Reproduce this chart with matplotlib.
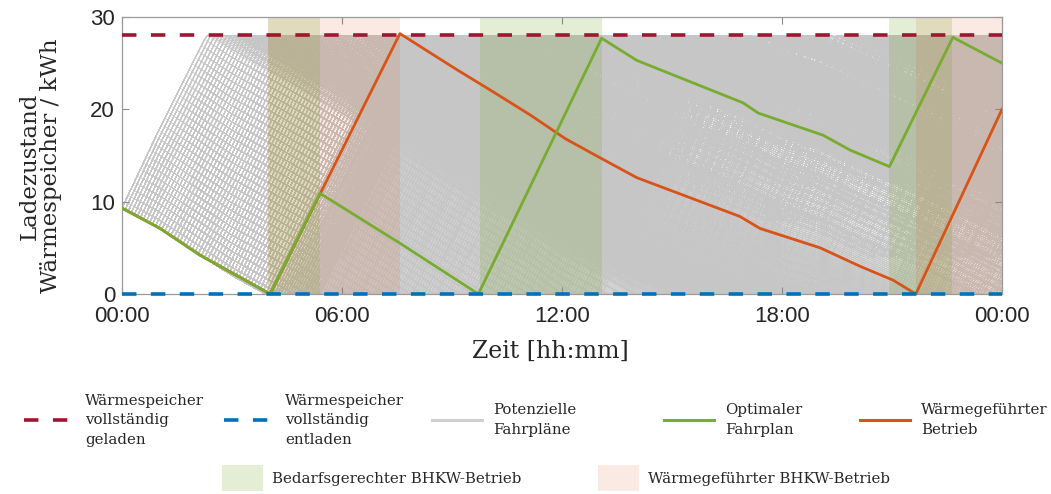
import numpy as np
import matplotlib
matplotlib.use("Agg")
import matplotlib.pyplot as plt
from matplotlib.collections import LineCollection
from matplotlib.lines import Line2D
from matplotlib.patches import Patch

# ---------------- data ----------------
capacity = 28.0            # kWh, storage full
soc_start = 9.3            # kWh at 00:00
chp_power = 10.5           # kWh/h gross heat output while running
# heat demand per hour 00..23 (kWh/h), read from discharge slopes
demand_per_hour = [2.1, 2.6, 2.6, 2.2, 2.3, 2.4, 2.5, 2.6, 2.6, 2.4, 2.3, 2.8,
                   2.1, 2.3, 1.6, 1.5, 1.6, 2.0, 1.3, 1.9, 1.8, 1.8, 2.0, 2.0]

# optimal schedule (green)
opt_t = [0.0, 1.04, 2.13, 4.04, 5.40, 7.58, 9.72, 13.08, 14.04, 16.94, 17.35,
         19.12, 19.85, 20.93, 22.66, 24.0]
opt_soc = [9.3, 7.1, 4.2, 0.0, 10.9, 5.5, 0.0, 27.7, 25.3, 20.7, 19.6,
           17.2, 15.6, 13.8, 27.8, 25.0]

# heat-led operation (orange)
heat_t = [0.0, 1.04, 2.13, 4.04, 7.58, 9.13, 10.04, 11.13, 12.10, 13.04, 14.04,
          16.85, 17.40, 19.04, 20.13, 21.03, 21.65, 24.0]
heat_soc = [9.3, 7.1, 4.2, 0.0, 28.2, 24.3, 22.1, 19.4, 16.8, 14.75, 12.6,
            8.4, 7.1, 5.0, 3.0, 1.5, 0.0, 20.0]

# CHP operating windows
demand_spans = [(3.97, 5.40), (9.75, 13.08), (20.92, 22.64)]
heatled_spans = [(3.97, 7.58), (21.65, 24.0)]

# potential schedules: first start / first run time grids (hours),
# restart thresholds (kWh) for the follow-up runs
first_start_fine = np.arange(0.0, 5.5, 1 / 12)
first_run_fine = np.arange(1 / 12, 4.0, 1 / 12)
first_start_coarse = np.arange(0.0, 5.5, 1 / 6)
first_run_coarse = np.arange(1 / 6, 4.0, 1 / 6)
restart_levels = [4.0, 8.0, 12.0, 16.0, 20.0]
restart_from = 5.4
empty_restart_windows = [(5.4, 13.1), (20.9, 24.0)]

xtick_pos = [0, 6, 12, 18, 24]
xtick_lab = ["00:00", "06:00", "12:00", "18:00", "00:00"]
ytick_pos = [0, 10, 20, 30]

# ---------------- potential schedules (storage simulation) ----------------
dt = 1 / 12
T = np.arange(0, 24 + dt / 2, dt)
dem = np.asarray(demand_per_hour)[np.minimum(T[:-1].astype(int), 23)]
eps = 1e-9


def simulate(starts, runs, theta, windows):
    S1, R1 = np.meshgrid(starts, runs)
    S1 = S1.ravel(); R1 = R1.ravel()
    n = S1.size
    soc = np.full(n, soc_start)
    charging = np.zeros(n, bool)
    first = np.full(n, T.size, int)
    traj = np.empty((n, T.size))
    traj[:, 0] = soc
    for k in range(T.size - 1):
        t = T[k]
        stage1 = (t >= S1 - eps) & (t < S1 + R1 - eps)
        after1 = t >= S1 + R1 - eps
        allowed = any(a - eps <= t < b for a, b in windows)
        start = after1 & allowed & (soc <= theta + eps) & ~charging
        first = np.where(start & (first == T.size), k, first)
        charging = charging | start
        charging = charging & ~(soc >= capacity - eps)
        on = stage1 | (after1 & charging)
        soc = np.clip(soc + dt * (on * chp_power - dem[k]), 0, capacity)
        traj[:, k + 1] = soc
    return traj, first


all_lines = []
trajA, _ = simulate(first_start_fine, first_run_fine, 0.0, empty_restart_windows)
all_lines.append(trajA)
for lvl in restart_levels:
    tr, first = simulate(first_start_coarse, first_run_coarse, lvl, [(restart_from, 24.0)])
    keep = first < T.size
    tr = tr[keep]; first = first[keep]
    mask = np.arange(T.size)[None, :] < first[:, None]
    tr = np.where(mask, np.nan, tr)
    all_lines.append(tr)
traj = np.vstack(all_lines)
segs = np.stack([np.broadcast_to(T, traj.shape), traj], axis=-1)

# ---------------- figure ----------------
W, H = 1051, 494
fig = plt.figure(figsize=(W / 100, H / 100), dpi=100)
ax = fig.add_axes([122 / W, 1 - 294 / H, 880 / W, 277 / H])

C_GREEN = "#77ac30"
C_ORANGE = "#d95319"
C_RED = "#a2142f"
C_BLUE = "#0072bd"
C_GRAY = "#c6c6c6"

lc = LineCollection(segs, colors=C_GRAY, linewidths=0.45, alpha=0.7, zorder=1)
ax.add_collection(lc)

for a, b in demand_spans:
    ax.axvspan(a, b, color=C_GREEN, alpha=0.2, lw=0, zorder=2)
for a, b in heatled_spans:
    ax.axvspan(a, b, color=C_ORANGE, alpha=0.12, lw=0, zorder=2)

ax.plot(heat_t, heat_soc, color=C_ORANGE, lw=2.0, zorder=3)
ax.plot(opt_t, opt_soc, color=C_GREEN, lw=2.0, zorder=4)
dash = (0, (4.0, 4.0))
ax.axhline(capacity, color=C_RED, lw=2.6, ls=dash, zorder=5)
ax.axhline(0, color=C_BLUE, lw=2.6, ls=dash, zorder=5, clip_on=False)

ax.set_xlim(0, 24)
ax.set_ylim(0, 30)
ax.set_xticks(xtick_pos)
ax.set_xticklabels(xtick_lab)
ax.set_yticks(ytick_pos)
ax.tick_params(direction="in", length=5, width=0.8, color="#8a8a8a",
               top=True, right=True, labelsize=16, labelcolor="#262626")
ax.tick_params(axis="x", pad=9)
ax.tick_params(axis="y", pad=5)
for lab in ax.get_xticklabels() + ax.get_yticklabels():
    lab.set_family("Liberation Sans")
for s in ax.spines.values():
    s.set_color("#9a9a9a")
    s.set_linewidth(0.9)

serif = "DejaVu Serif"
ax.set_xlabel("Zeit [hh:mm]", family=serif, fontsize=17, color="#262626")
ax.xaxis.set_label_coords((550 - 122) / 880, -(340 - 294) / 277)
ax.set_ylabel("Ladezustand\nWärmespeicher / kWh", family=serif, fontsize=16.5,
              color="#262626", linespacing=0.95)
ax.yaxis.set_label_coords((40 - 122) / 880, (294 - 166) / 277)
ax.yaxis.label.set_va("center")

# ---------------- legend ----------------
lfs = 10.8
row1_y = 1 - 420 / H
entries = [
    (Line2D([], [], color=C_RED, lw=2.6, ls=dash), "Wärmespeicher\nvollständig\ngeladen", 24),
    (Line2D([], [], color=C_BLUE, lw=2.6, ls=dash), "Wärmespeicher\nvollständig\nentladen", 224),
    (Line2D([], [], color="#cfcfcf", lw=2.2), "Potenzielle\nFahrpläne", 432),
    (Line2D([], [], color=C_GREEN, lw=2.2), "Optimaler\nFahrplan", 664),
    (Line2D([], [], color=C_ORANGE, lw=2.2), "Wärmegeführter\nBetrieb", 860),
]
for h, lab, x in entries:
    leg = fig.legend([h], [lab], loc="center left", bbox_to_anchor=(x / W, row1_y),
                     frameon=False, borderpad=0, borderaxespad=0, handlelength=3.3,
                     handletextpad=0.75, prop={"family": serif, "size": lfs})
    for t in leg.get_texts():
        t.set_linespacing(1.5)
        t.set_color("#262626")

row2_y = 1 - 478 / H
patches = [
    (Patch(facecolor=C_GREEN, alpha=0.2, lw=0), "Bedarfsgerechter BHKW-Betrieb", 222),
    (Patch(facecolor=C_ORANGE, alpha=0.12, lw=0), "Wärmegeführter BHKW-Betrieb", 598),
]
for h, lab, x in patches:
    leg = fig.legend([h], [lab], loc="center left", bbox_to_anchor=(x / W, row2_y),
                     frameon=False, borderpad=0, borderaxespad=0, handlelength=2.7,
                     handleheight=2.2, handletextpad=0.65, prop={"family": serif, "size": lfs})
    for t in leg.get_texts():
        t.set_color("#262626")

fig.savefig("out.png", dpi=100)
